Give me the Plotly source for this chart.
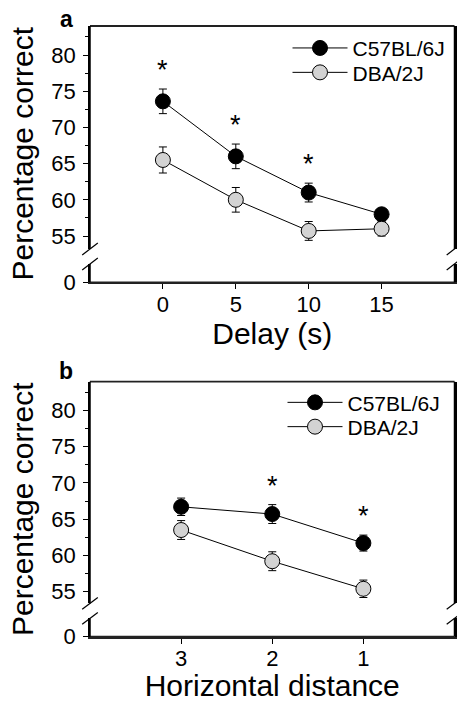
import plotly.graph_objects as go

# ---------------- data ----------------
strains = ["C57BL/6J", "DBA/2J"]

delay_s = [0, 5, 10, 15]
delay_c57_mean = [73.6, 66.0, 61.0, 58.0]
delay_c57_sem = [1.7, 1.7, 1.3, 0.8]
delay_dba_mean = [65.5, 60.0, 55.7, 56.0]
delay_dba_sem = [1.8, 1.7, 1.3, 1.0]
delay_sig = [True, True, True, False]

hdist = [3, 2, 1]
hdist_c57_mean = [66.7, 65.7, 61.7]
hdist_c57_sem = [1.2, 1.3, 1.1]
hdist_dba_mean = [63.5, 59.2, 55.4]
hdist_dba_sem = [1.3, 1.3, 1.2]
hdist_sig = [False, True, True]

y_major_ticks = [55, 60, 65, 70, 75, 80]

# ---------------- layout helpers ----------------
W, H = 457, 702
FONT = "Liberation Sans, Arial, sans-serif"
BLACK = "#000000"
GREY_FILL = "#d3d3d3"
LINE_C = "#222222"


def px_x(p):
    return p / W


def px_y(p):
    return 1 - p / H


XL, XR = 90, 454.5
X_DOM = [px_x(XL), px_x(XR)]

fig = go.Figure()

# empty helper traces so that the lower (broken) axis segments are drawn
fig.add_trace(go.Scatter(x=[], y=[], xaxis="x", yaxis="y", showlegend=False, hoverinfo="skip"))
fig.add_trace(go.Scatter(x=[], y=[], xaxis="x2", yaxis="y3", showlegend=False, hoverinfo="skip"))

styles = [dict(color=BLACK), dict(color=GREY_FILL)]


def add_panel(xs, means, sems, xaxis, yaxis, legends):
    for name, m, s, st, lg in zip(strains, means, sems, styles, legends):
        fig.add_trace(go.Scatter(
            x=xs, y=m, name=name, mode="lines+markers",
            xaxis=xaxis, yaxis=yaxis, legend=lg,
            line=dict(color=BLACK, width=1),
            marker=dict(size=15, color=st["color"], line=dict(color=BLACK, width=1)),
            error_y=dict(type="data", array=s, visible=True, color=BLACK,
                         thickness=1, width=4),
            showlegend=True,
        ))


add_panel(delay_s, [delay_c57_mean, delay_dba_mean],
          [delay_c57_sem, delay_dba_sem], "x", "y2", ["legend", "legend2"])
add_panel(hdist, [hdist_c57_mean, hdist_dba_mean],
          [hdist_c57_sem, hdist_dba_sem], "x2", "y4", ["legend3", "legend4"])

annotations = []


def add_stars(xs, means, sems, sig, xref, yref):
    for x, m, s, g in zip(xs, means, sems, sig):
        if g:
            annotations.append(dict(
                x=x, y=m + s, xref=xref, yref=yref, text="*", showarrow=False,
                yanchor="bottom", yshift=2,
                font=dict(family=FONT, size=27, color=BLACK)))


add_stars(delay_s, delay_c57_mean, delay_c57_sem, delay_sig, "x", "y2")
add_stars(hdist, hdist_c57_mean, hdist_c57_sem, hdist_sig, "x2", "y4")

# panel letters and y titles
for letter, ypix in [("a", 19), ("b", 371)]:
    annotations.append(dict(
        x=px_x(66), y=px_y(ypix), xref="paper", yref="paper", text="<b>%s</b>" % letter,
        showarrow=False, xanchor="center", yanchor="middle",
        font=dict(family=FONT, size=23, color=BLACK)))

for ypix in [153.5, 509]:
    annotations.append(dict(
        x=px_x(22), y=px_y(ypix), xref="paper", yref="paper", text="Percentage correct",
        showarrow=False, textangle=-90, xanchor="center", yanchor="middle",
        font=dict(family=FONT, size=30, color=BLACK)))

# ---------------- axes ----------------
tickfont = dict(family=FONT, size=22, color=BLACK)
titlefont = dict(family=FONT, size=30, color=BLACK)

common_y_upper = dict(
    showline=True, linecolor=BLACK, linewidth=1.5, mirror=True,
    ticks="outside", ticklen=5, tickwidth=1, tickcolor=BLACK,
    tickvals=y_major_ticks, tickfont=tickfont, ticklabelstandoff=3,
    minor=dict(ticks="outside", ticklen=3, tickwidth=1, tickcolor=BLACK, dtick=2.5, tick0=0),
    showgrid=False, zeroline=False, fixedrange=True,
)
common_y_lower = dict(
    showline=True, linecolor=BLACK, linewidth=1.5, mirror=True,
    ticks="outside", ticklen=5, tickwidth=1, tickcolor=BLACK,
    tickvals=[0], tickfont=tickfont, ticklabelstandoff=3,
    showgrid=False, zeroline=False, fixedrange=True,
)
common_x = dict(
    showline=True, linecolor=LINE_C, linewidth=1.8,
    ticks="outside", ticklen=5, tickwidth=1, tickcolor=BLACK,
    tickfont=tickfont, ticklabelstandoff=-4,
    showgrid=False, zeroline=False, fixedrange=True,
    domain=X_DOM,
)

# panel pixel geometry: top, upper-segment bottom, lower-segment top, bottom
PANEL_A = (26, 249, 264, 282.3)
PANEL_B = (381.7, 603.4, 618.4, 636.7)

legend_style = dict(xanchor="left", yanchor="middle", bgcolor="rgba(0,0,0,0)",
                    font=dict(family=FONT, size=21, color=BLACK), itemwidth=55)

fig.update_layout(
    width=W, height=H,
    margin=dict(l=0, r=0, t=0, b=0, autoexpand=False),
    paper_bgcolor="white", plot_bgcolor="rgba(0,0,0,0)",
    font=dict(family=FONT, color=BLACK),
    showlegend=True,
    xaxis=dict(common_x, range=[-5, 20], tickvals=delay_s, anchor="y",
               title=dict(text="Delay (s)", font=titlefont, standoff=2)),
    yaxis=dict(common_y_lower, range=[0, 2.528], anchor="x",
               domain=[px_y(PANEL_A[3]), px_y(PANEL_A[2])]),
    yaxis2=dict(common_y_upper, range=[53.204, 84.006], anchor="x",
                domain=[px_y(PANEL_A[1]), px_y(PANEL_A[0])]),
    xaxis2=dict(common_x, range=[4, 0], tickvals=hdist, anchor="y3",
                title=dict(text="Horizontal distance", font=titlefont, standoff=2)),
    yaxis3=dict(common_y_lower, range=[0, 2.522], anchor="x2",
                domain=[px_y(PANEL_B[3]), px_y(PANEL_B[2])]),
    yaxis4=dict(common_y_upper, range=[53.388, 83.94], anchor="x2",
                domain=[px_y(PANEL_B[1]), px_y(PANEL_B[0])]),
    legend=dict(legend_style, x=px_x(287.5), y=px_y(48.3)),
    legend2=dict(legend_style, x=px_x(287.5), y=px_y(72.7)),
    legend3=dict(legend_style, x=px_x(282.5), y=px_y(402.7)),
    legend4=dict(legend_style, x=px_x(282.5), y=px_y(427)),
    annotations=annotations,
)

# ---------------- frame lines and axis breaks ----------------
shapes = []


def seg(x0, y0, x1, y1, color=BLACK, width=1.2):
    shapes.append(dict(type="line", xref="paper", yref="paper", layer="above",
                       x0=px_x(x0), y0=px_y(y0), x1=px_x(x1), y1=px_y(y1),
                       line=dict(color=color, width=width)))


for top, ub, lt, bot in [PANEL_A, PANEL_B]:
    seg(XL, top, XR, top, LINE_C, 1.8)        # top border
    seg(XL, bot, XR, bot, LINE_C, 1.8)        # bottom border
    for xc in [XL, XR]:
        seg(xc, top, xc, ub, BLACK, 1.5)       # upper frame segment
        seg(xc, lt, xc, bot, BLACK, 1.5)       # lower frame segment
        for yc in [ub, lt]:
            seg(xc - 7.8, yc + 5.9, xc + 7.8, yc - 5.9)
fig.update_layout(shapes=shapes)

fig.write_html("out.html", config={"displayModeBar": False},
               post_script="document.body.style.margin='0';")
